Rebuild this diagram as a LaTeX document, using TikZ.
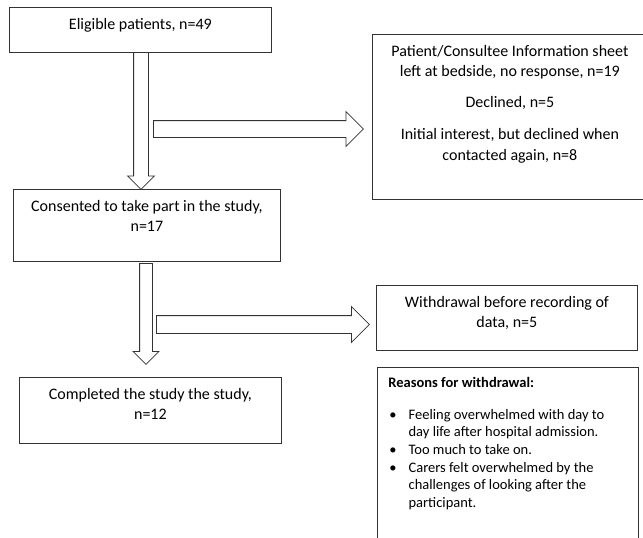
\documentclass[tikz,border=0pt]{standalone}
\usepackage{fontspec}
\setmainfont{Carlito}
\usetikzlibrary{shapes.arrows}

\newcommand{\boxfont}{\fontsize{16}{20.5}\selectfont}
\newcommand{\boxtext}[3]{\parbox[c][#2][t]{#1}{\boxfont\centering\vspace*{10.5pt}#3}}

\begin{document}
\begin{tikzpicture}[x=1pt,y=-1pt,
  box/.style={draw=black!80, line width=0.8pt, anchor=north west, inner sep=0pt},
  flowarrow/.style={single arrow, draw=black!80, line width=0.8pt, fill=white, anchor=tail, single arrow head indent=0pt}]
\path[use as bounding box, clip] (0,0) rectangle (643,538);

% boxes of the flow
\node[box] (elig) at (9,7) {\boxtext{262pt}{45pt}{Eligible patients, n=49}};
\node[box] (consent) at (13,189) {\boxtext{267pt}{72pt}{Consented to take part in the study,\\ n=17}};
\node[box] (done) at (19,377) {\boxtext{262pt}{66pt}{Completed the study the study,\\ n=12}};

% boxes on the right
\node[box] (info) at (372,34) {\boxtext{275pt}{165pt}{Patient/Consultee Information sheet\\ left at bedside, no response, n=19\\[10pt] Declined, n=5\\[12pt] Initial interest, but declined when\\ contacted again, n=8}};
\node[box] (withdraw) at (376,285) {\boxtext{261pt}{65pt}{Withdrawal before recording of\\ data, n=5}};
\node[box] (reasons) at (377,367) {\parbox[c][180pt][t]{261pt}{\fontsize{14.5}{17.7}\selectfont\vspace*{10pt}%
  \hspace*{11pt}\textbf{Reasons for withdrawal:}\par\vspace{18pt}%
  \begin{tabular}{@{\hspace{12pt}}l@{\hspace{12pt}}l@{}}
  \textbullet & Feeling overwhelmed with day to\\
   & day life after hospital admission.\\
  \textbullet & Too much to take on.\\
  \textbullet & Carers felt overwhelmed by the\\
   & challenges of looking after the\\
   & participant.
  \end{tabular}}};

% block arrows
\node[flowarrow, shape border rotate=270, minimum height=137pt, inner sep=7pt, single arrow head extend=6pt] (down1) at (141,52) {};
\node[flowarrow, shape border rotate=270, minimum height=101pt, inner sep=6pt, single arrow head extend=6.5pt] (down2) at (146,263) {};
\node[flowarrow, minimum height=210pt, inner sep=8pt, single arrow head extend=9pt] (right1) at (153,129) {};
\node[flowarrow, minimum height=213pt, inner sep=8.5pt, single arrow head extend=9pt] (right2) at (156,324.5) {};
\end{tikzpicture}
\end{document}
